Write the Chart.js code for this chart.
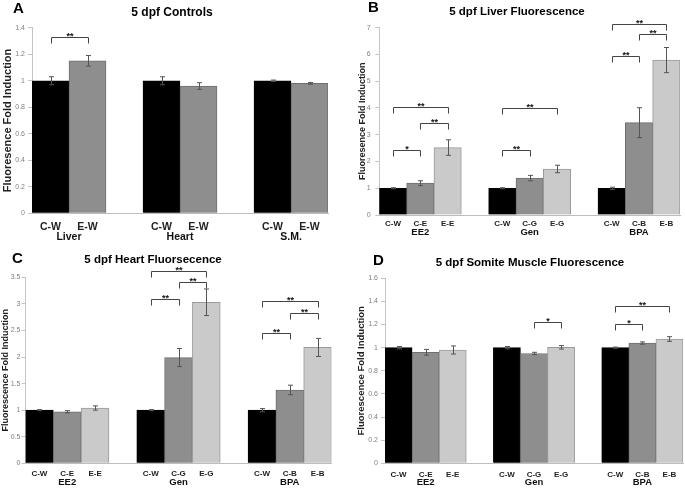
<!DOCTYPE html>
<html>
<head>
<meta charset="utf-8">
<script src="https://cdn.jsdelivr.net/npm/chart.js@4.4.1/dist/chart.umd.min.js"></script>
<style>
  body { margin: 0; background: #fff; }
  #wrap { position: relative; width: 685px; height: 491px; overflow: hidden; }
  .panel { position: absolute; }
</style>
</head>
<body>
<div id="wrap">
  <div class="panel" style="left:0;top:0"><canvas id="chartA" width="342" height="245"></canvas></div>
  <div class="panel" style="left:342px;top:0"><canvas id="chartB" width="343" height="245"></canvas></div>
  <div class="panel" style="left:0;top:245px"><canvas id="chartC" width="342" height="246"></canvas></div>
  <div class="panel" style="left:342px;top:245px"><canvas id="chartD" width="343" height="246"></canvas></div>
</div>
<script>
// ---- data ----
// empty labels / nulls are the gaps between groups
const labelsA = ['C-W', 'E-W', '', 'C-W', 'E-W', '', 'C-W', 'E-W'];
const valuesA = [1.0, 1.15, null, 1.0, 0.96, null, 1.0, 0.98];
const errorsA = [0.03, 0.04, null, 0.03, 0.025, null, 0.005, 0.007];
const groupsA = [['Liver', 0, 1], ['Heart', 3, 4], ['S.M.', 6, 7]];
const signifA = [[0, 1, 1.33, '**']];

const labelsB = ['C-W', 'C-E', 'E-E', '', 'C-W', 'C-G', 'E-G', '', 'C-W', 'C-B', 'E-B'];
const valuesB = [1.0, 1.19, 2.52, null, 1.0, 1.38, 1.72, null, 1.0, 3.45, 5.79];
const errorsB = [0.02, 0.09, 0.29, null, 0.02, 0.1, 0.14, null, 0.04, 0.56, 0.47];
const groupsB = [['EE2', 0, 2], ['Gen', 4, 6], ['BPA', 8, 10]];
const signifB = [[0, 1, 2.43, '*'], [1, 2, 3.42, '**'], [0, 2, 4.03, '**'],
                 [4, 5, 2.43, '**'], [4, 6, 4.0, '**'],
                 [8, 9, 5.94, '**'], [9, 10, 6.75, '**'], [8, 10, 7.14, '**']];

const labelsC = ['C-W', 'C-E', 'E-E', '', 'C-W', 'C-G', 'E-G', '', 'C-W', 'C-B', 'E-B'];
const valuesC = [1.0, 0.97, 1.04, null, 1.0, 1.99, 3.03, null, 1.0, 1.38, 2.18];
const errorsC = [0.01, 0.02, 0.04, null, 0.01, 0.17, 0.25, null, 0.03, 0.09, 0.17];
const groupsC = [['EE2', 0, 2], ['Gen', 4, 6], ['BPA', 8, 10]];
const signifC = [[4, 5, 3.09, '**'], [5, 6, 3.41, '**'], [4, 6, 3.61, '**'],
                 [8, 9, 2.45, '**'], [9, 10, 2.82, '**'], [8, 10, 3.06, '**']];

const labelsD = ['C-W', 'C-E', 'E-E', '', 'C-W', 'C-G', 'E-G', '', 'C-W', 'C-B', 'E-B'];
const valuesD = [1.0, 0.96, 0.98, null, 1.0, 0.95, 1.003, null, 1.0, 1.04, 1.075];
const errorsD = [0.01, 0.025, 0.035, null, 0.01, 0.01, 0.015, null, 0.005, 0.01, 0.02];
const groupsD = [['EE2', 0, 2], ['Gen', 4, 6], ['BPA', 8, 10]];
const signifD = [[5, 6, 1.225, '*'], [8, 9, 1.205, '*'], [8, 10, 1.36, '**']];

const FONT = '"Liberation Sans", Arial, sans-serif';

function fillFor(label) {
    if (label === 'C-W') return '#000000';
    if (label === 'E-W' || label.startsWith('C-')) return '#8e8e8e';
    return '#cacaca';
}
function borderFor(label) {
    if (label === 'C-W') return '#000000';
    if (label === 'E-W' || label.startsWith('C-')) return '#6f6f6f';
    return '#9a9a9a';
}

// draws error bars, brackets, group names, title and panel letter
function makeAnnotations(p) {
    return {
        id: 'annot' + p.letter,
        afterDatasetsDraw(chart) {
            const ctx = chart.ctx;
            const ys = chart.scales.y;
            const meta = chart.getDatasetMeta(0);
            ctx.save();
            ctx.strokeStyle = '#555';
            ctx.lineWidth = 1;
            p.errors.forEach((e, i) => {
                if (e == null) return;
                const v = p.values[i];
                const x = Math.round(meta.data[i].x) + 0.5;
                const t = ys.getPixelForValue(v + e);
                const b = ys.getPixelForValue(v - e);
                ctx.beginPath();
                ctx.moveTo(x, t); ctx.lineTo(x, b);
                ctx.moveTo(x - 2.5, t); ctx.lineTo(x + 2.5, t);
                ctx.moveTo(x - 2.5, b); ctx.lineTo(x + 2.5, b);
                ctx.stroke();
            });
            ctx.restore();
        },
        afterDraw(chart) {
            const ctx = chart.ctx;
            const xs = chart.scales.x, ys = chart.scales.y;
            const area = chart.chartArea;
            ctx.save();
            // brackets
            ctx.strokeStyle = '#444';
            ctx.lineWidth = 1;
            ctx.fillStyle = '#111';
            ctx.textAlign = 'center';
            ctx.textBaseline = 'alphabetic';
            ctx.font = 'bold 9px ' + FONT;
            p.signif.forEach(([a, b, yv, txt]) => {
                const x1 = Math.round(xs.getPixelForValue(a)) + 0.5;
                const x2 = Math.round(xs.getPixelForValue(b)) + 0.5;
                const y = Math.round(ys.getPixelForValue(yv)) + 0.5;
                ctx.beginPath();
                ctx.moveTo(x1, y + 6); ctx.lineTo(x1, y); ctx.lineTo(x2, y); ctx.lineTo(x2, y + 6);
                ctx.stroke();
                ctx.fillText(txt, (x1 + x2) / 2, y + 1);
            });
            // group names under the tick labels
            ctx.textBaseline = 'middle';
            ctx.font = 'bold ' + p.groupSize + 'px ' + FONT;
            p.groups.forEach(([name, a, b]) => {
                const x = (xs.getPixelForValue(a) + xs.getPixelForValue(b)) / 2;
                ctx.fillText(name, x, area.bottom + p.groupOffset);
            });
            // title
            ctx.fillStyle = '#000';
            ctx.font = 'bold ' + p.titleSize + 'px ' + FONT;
            ctx.fillText(p.title, p.titlePos[0], p.titlePos[1]);
            // panel letter
            ctx.textAlign = 'left';
            ctx.font = 'bold 15px ' + FONT;
            ctx.fillText(p.letter, p.letterPos[0], p.letterPos[1]);
            ctx.restore();
        }
    };
}

function drawPanel(p) {
    const ctx = document.getElementById('chart' + p.letter).getContext('2d');
    new Chart(ctx, {
        type: 'bar',
        data: {
            labels: p.labels,
            datasets: [{
                data: p.values,
                backgroundColor: p.labels.map(fillFor),
                borderColor: p.labels.map(borderFor),
                borderWidth: 1,
                barPercentage: 1,
                categoryPercentage: 1,
            }]
        },
        options: {
            responsive: false,
            animation: false,
            layout: { padding: { left: p.padL, right: p.padR, top: p.padT, bottom: 0 } },
            plugins: { legend: { display: false }, tooltip: { enabled: false } },
            scales: {
                x: {
                    grid: { display: false, drawTicks: false },
                    border: { display: true, color: '#bdbdbd' },
                    ticks: {
                        color: '#222', autoSkip: false, maxRotation: 0,
                        padding: p.xTickPad,
                        font: { family: FONT, size: p.xTickSize, weight: 'bold' },
                    },
                    afterFit: s => { s.height = p.xH; }
                },
                y: {
                    min: 0,
                    max: p.yMax,
                    ticks: {
                        stepSize: p.yStep, color: '#808080', padding: p.yTickPad,
                        font: { family: FONT, size: 7 },
                        callback: v => String(Math.round(v * 100) / 100),
                    },
                    grid: { drawOnChartArea: false, drawTicks: true, tickLength: 4, color: '#c4c4c4' },
                    border: { display: true, color: '#c4c4c4' },
                    title: {
                        display: true, text: p.yTitle, color: '#222',
                        font: { family: FONT, size: p.yTitleSize, weight: 'bold' },
                        padding: { top: p.yTitlePad, bottom: 0 },
                    },
                    afterFit: s => { s.width = p.yW; }
                }
            }
        },
        plugins: [makeAnnotations(p)]
    });
}

drawPanel({
    letter: 'A', labels: labelsA, values: valuesA, errors: errorsA, groups: groupsA, signif: signifA,
    title: '5 dpf Controls', titleSize: 12, titlePos: [172, 13], letterPos: [13, 9],
    yTitle: 'Fluoresence Fold Induction', yTitleSize: 11, yTitlePad: 1.4,
    yMax: 1.4, yStep: 0.2,
    padL: 0, yW: 32, padR: 14, padT: 27.7, xH: 31.7,
    xTickSize: 10.5, xTickPad: 7.4, groupSize: 10.5, groupOffset: 24, yTickPad: 3,
});
drawPanel({
    letter: 'B', labels: labelsB, values: valuesB, errors: errorsB, groups: groupsB, signif: signifB,
    title: '5 dpf Liver Fluorescence', titleSize: 11.5, titlePos: [175, 12], letterPos: [26, 8],
    yTitle: 'Fluoresence Fold Induction', yTitleSize: 9, yTitlePad: 1.3,
    yMax: 7, yStep: 1,
    padL: 14, yW: 23.3, padR: 5, padT: 27.7, xH: 30,
    xTickSize: 8, xTickPad: 4.2, groupSize: 9.5, groupOffset: 17, yTickPad: 4.6,
});
drawPanel({
    letter: 'C', labels: labelsC, values: valuesC, errors: errorsC, groups: groupsC, signif: signifC,
    title: '5 dpf Heart Fluorsecence', titleSize: 11.5, titlePos: [153, 15], letterPos: [12, 14],
    yTitle: 'Fluorescence Fold Induction', yTitleSize: 9, yTitlePad: 0,
    yMax: 3.5, yStep: 0.5,
    padL: 0, yW: 25.5, padR: 10.5, padT: 32.3, xH: 27.7,
    xTickSize: 8, xTickPad: 5.9, groupSize: 9.5, groupOffset: 19, yTickPad: 1,
});
drawPanel({
    letter: 'D', labels: labelsD, values: valuesD, errors: errorsD, groups: groupsD, signif: signifD,
    title: '5 dpf Somite Muscle Fluorescence', titleSize: 11.5, titlePos: [188, 18], letterPos: [31, 16],
    yTitle: 'Fluorescence Fold Induction', yTitleSize: 9.5, yTitlePad: 0,
    yMax: 1.6, yStep: 0.2,
    padL: 14, yW: 29, padR: 2, padT: 33.3, xH: 27.7,
    xTickSize: 8, xTickPad: 6.9, groupSize: 9.5, groupOffset: 19, yTickPad: 3,
});
</script>
</body>
</html>
